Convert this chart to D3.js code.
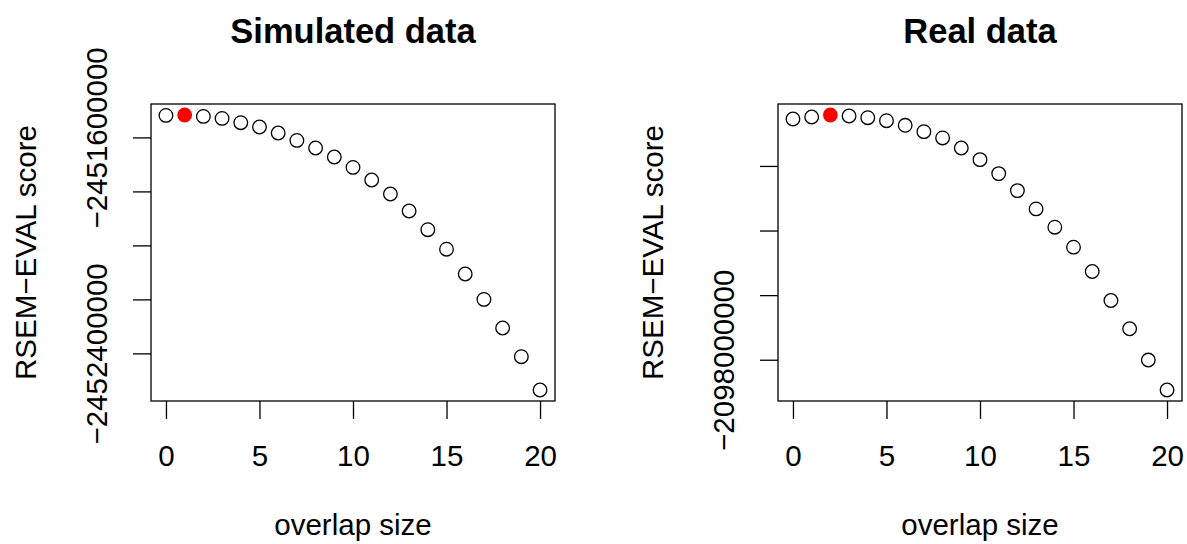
<!DOCTYPE html>
<html>
<head>
<meta charset="utf-8">
<script src="https://cdn.jsdelivr.net/npm/d3@7"></script>
<style>
  html, body { margin: 0; padding: 0; background: #fff; }
  svg { display: block; }
  text { font-family: "Liberation Sans", Arial, Helvetica, sans-serif; fill: #000; }
</style>
</head>
<body>
<svg id="chart" width="1187" height="544"></svg>
<script>
// ---- data ----
const overlapSize = [0,1,2,3,4,5,6,7,8,9,10,11,12,13,14,15,16,17,18,19,20];

const simulatedScores = [
  -2451518500, -2451517000, -2451522200, -2451529600, -2451545600,
  -2451561500, -2451583700, -2451611100, -2451639300, -2451672600,
  -2451711100, -2451757800, -2451809600, -2451872600, -2451941900,
  -2452014100, -2452105900, -2452200000, -2452305900, -2452412200,
  -2452535600
];

const realScores = [
  -2097254700, -2097248500, -2097242300, -2097245400, -2097250700,
  -2097259900, -2097274200, -2097293900, -2097313400, -2097344400,
  -2097380500, -2097423800, -2097476400, -2097533000, -2097589600,
  -2097651500, -2097726900, -2097816600, -2097904100, -2098000900,
  -2098093700
];

const xTicks = [0, 5, 10, 15, 20];
const simulatedYTicks = [-2451600000, -2451800000, -2452000000, -2452200000, -2452400000];
const simulatedYLabels = ["\u22122451600000", "", "", "", "\u22122452400000"];
const realYTicks = [-2097400000, -2097600000, -2097800000, -2098000000];
const realYLabels = ["", "", "", "\u22122098000000"];

const panelTitles = ["Simulated data", "Real data"];
const xTitle = "overlap size";
const yTitle = "RSEM\u2212EVAL score";

// ---- drawing ----
(function () {
const svg = d3.select("#chart");
svg.append("rect").attr("width", 1187).attr("height", 544).attr("fill", "#fff");

const panels = [
  { left: 151, scores: simulatedScores, yTicks: simulatedYTicks, yLabels: simulatedYLabels, title: panelTitles[0] },
  { left: 778, scores: realScores, yTicks: realYTicks, yLabels: realYLabels, title: panelTitles[1] }
];
const boxW = 404, boxTop = 104, boxBottom = 401;
const FS = 29.5, TITLE_FS = 34.5, TICK = 18, LW = 1.3;

function rExtend(ext) {
  const r = ext[1] - ext[0];
  return [ext[0] - 0.04 * r, ext[1] + 0.04 * r];
}

panels.forEach(p => {
  const g = svg.append("g");
  const x = d3.scaleLinear().domain(rExtend(d3.extent(overlapSize))).range([p.left, p.left + boxW]);
  const y = d3.scaleLinear().domain(rExtend(d3.extent(p.scores))).range([boxBottom, boxTop]);
  const best = d3.maxIndex(p.scores);

  // x axis
  const xa = g.append("g").attr("transform", `translate(0,${boxBottom})`)
    .call(d3.axisBottom(x).tickValues(xTicks).tickSize(TICK).tickFormat(d3.format("d")));
  xa.select(".domain").remove();
  xa.selectAll(".tick line").attr("stroke", "#000").attr("stroke-width", LW);
  xa.selectAll(".tick text").attr("y", 65).attr("dy", 0)
    .style("font-size", FS + "px").attr("fill", "#000");

  // y axis
  const ya = g.append("g").attr("transform", `translate(${p.left},0)`)
    .call(d3.axisLeft(y).tickValues(p.yTicks).tickSize(TICK).tickFormat((d, i) => p.yLabels[i]));
  ya.select(".domain").remove();
  ya.selectAll(".tick line").attr("stroke", "#000").attr("stroke-width", LW);
  ya.selectAll(".tick text")
    .attr("x", null).attr("dy", 0)
    .attr("transform", "translate(-44.5,0) rotate(-90)")
    .attr("text-anchor", "middle")
    .style("font-size", FS + "px").attr("fill", "#000");

  // box
  g.append("rect")
    .attr("x", p.left).attr("y", boxTop)
    .attr("width", boxW).attr("height", boxBottom - boxTop)
    .attr("fill", "none").attr("stroke", "#000").attr("stroke-width", LW);

  // points
  g.selectAll("circle.pt").data(p.scores).join("circle")
    .attr("class", "pt")
    .attr("cx", (d, i) => x(overlapSize[i]))
    .attr("cy", d => y(d))
    .attr("r", (d, i) => i === best ? 7.4 : 6.8)
    .attr("fill", (d, i) => i === best ? "#ff0000" : "none")
    .attr("stroke", (d, i) => i === best ? "none" : "#000")
    .attr("stroke-width", LW);

  // titles
  const cx = p.left + boxW / 2;
  g.append("text").attr("x", cx).attr("y", 42.5).attr("text-anchor", "middle")
    .style("font-size", TITLE_FS + "px").style("font-weight", "bold").text(p.title);
  g.append("text").attr("x", cx).attr("y", 534.5).attr("text-anchor", "middle")
    .style("font-size", FS + "px").text(xTitle);
  g.append("text").attr("transform", `translate(${p.left - 115},${(boxTop + boxBottom) / 2}) rotate(-90)`)
    .attr("text-anchor", "middle").style("font-size", FS + "px").text(yTitle);
});
})();
</script>
</body>
</html>
